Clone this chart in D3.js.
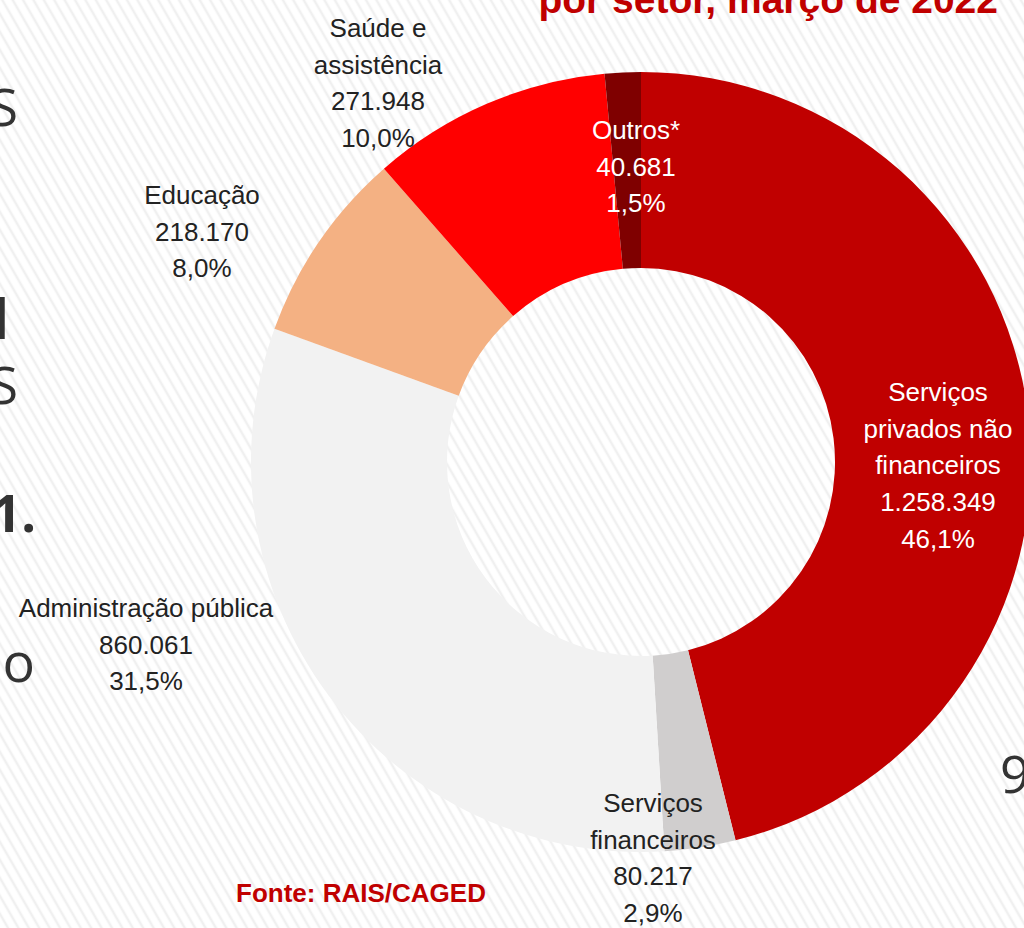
<!DOCTYPE html>
<html>
  <head>
    <meta charset="utf-8">
    <title>Empregos por setor, março de 2022</title>
    <script src="https://cdn.jsdelivr.net/npm/d3@7"></script>
    <style>
      body { margin: 0; background: #fff; }
      svg { display: block; }
      .lbl { font-family: "Liberation Sans", Arial, sans-serif; font-size: 26px; }
      .frag { font-family: "Open Sans", sans-serif; fill: #333; }
    </style>
  </head>
  <body>
    <svg id="chart" width="1024" height="928"></svg>
    <script>
      // data
      const sectors = ["Serviços privados não financeiros", "Serviços financeiros", "Administração pública", "Educação", "Saúde e assistência", "Outros*"];
      const jobs = [1258349, 80217, 860061, 218170, 271948, 40681];
      const colours = ["#c00000", "#d0cece", "#f2f2f2", "#f4b183", "#ff0000", "#7f0000"];
      // label lines as they break on the slide
      const nameLines = [["Serviços", "privados não", "financeiros"], ["Serviços", "financeiros"], ["Administração pública"], ["Educação"], ["Saúde e", "assistência"], ["Outros*"]];
      const labelColours = ["#fff", "#222", "#222", "#222", "#222", "#fff"];
      // label anchors (first line centre), placed by hand like the slide
      const labelAt = [[938, 401], [653, 812], [146, 617], [202, 204], [378, 37], [636, 139]];

      const svg = d3.select("#chart");
      const width = 1024, height = 928;
      const cx = 641, cy = 462, rOuter = 390, rInner = 194;

      // striped slide background
      const defs = svg.append("defs");
      const pat = defs.append("pattern")
        .attr("id", "stripes")
        .attr("patternUnits", "userSpaceOnUse")
        .attr("width", 9)
        .attr("height", 9)
        .attr("patternTransform", "rotate(-30)");
      pat.append("rect").attr("width", 9).attr("height", 9).attr("fill", "#fff");
      pat.append("line")
        .attr("x1", 2).attr("y1", 0).attr("x2", 2).attr("y2", 9)
        .attr("stroke", "#f0f0f0").attr("stroke-width", 2.5);
      svg.append("rect").attr("width", width).attr("height", height).attr("fill", "url(#stripes)");

      // fragments of the slide text behind the chart
      const frags = [
        { t: "S", x: 18, y: 126, size: 52, w: 400 },
        { t: "l", x: 9, y: 339, size: 56, w: 700 },
        { t: "S", x: 18, y: 404, size: 52, w: 400 },
        { t: "1.", x: 36, y: 532, size: 52, w: 700 },
        { t: "no", x: 35, y: 682, size: 54, w: 400 }
      ];
      svg.selectAll(".frag")
        .data(frags)
        .enter().append("text")
          .classed("frag", true)
          .attr("x", d => d.x)
          .attr("y", d => d.y)
          .attr("text-anchor", "end")
          .style("font-size", d => d.size + "px")
          .style("font-weight", d => d.w)
          .text(d => d.t);
      svg.append("text")
        .classed("frag", true)
        .attr("x", 1000)
        .attr("y", 793)
        .style("font-size", "52px")
        .text("9");

      // title, cut by the top edge
      svg.append("text")
        .attr("x", 998)
        .attr("y", 13)
        .attr("text-anchor", "end")
        .style("font-family", "'Liberation Sans', Arial, sans-serif")
        .style("font-size", "39px")
        .style("font-weight", "bold")
        .style("fill", "#c00000")
        .text("por setor, março de 2022");

      // donut
      const total = d3.sum(jobs);
      const loc = d3.formatLocale({ decimal: ",", thousands: ".", grouping: [3], currency: ["R$", ""] });
      const fmtNum = loc.format(",d");
      const fmtPct = loc.format(".1%");

      const rows = sectors.map((s, i) => ({ name: s, value: jobs[i], i: i }));
      const pie = d3.pie().sort(null).value(d => d.value);
      const arc = d3.arc().innerRadius(rInner).outerRadius(rOuter);

      const g = svg.append("g").attr("transform", "translate(" + cx + "," + cy + ")");
      g.selectAll(".slice")
        .data(pie(rows))
        .enter().append("path")
          .classed("slice", true)
          .attr("d", arc)
          .attr("fill", d => colours[d.data.i]);

      // labels
      const labels = svg.selectAll(".lbl")
        .data(rows)
        .enter().append("text")
          .classed("lbl", true)
          .attr("text-anchor", "middle")
          .attr("fill", d => labelColours[d.i]);
      labels.each(function(d) {
        const lines = nameLines[d.i].concat([fmtNum(d.value), fmtPct(d.value / total)]);
        d3.select(this).selectAll("tspan")
          .data(lines)
          .enter().append("tspan")
            .attr("x", labelAt[d.i][0])
            .attr("y", (l, k) => labelAt[d.i][1] + k * 36.7)
            .text(l => l);
      });

      // source
      svg.append("text")
        .attr("x", 361)
        .attr("y", 902)
        .attr("text-anchor", "middle")
        .style("font-family", "'Liberation Sans', Arial, sans-serif")
        .style("font-size", "26px")
        .style("font-weight", "bold")
        .style("fill", "#c00000")
        .text("Fonte: RAIS/CAGED");
    </script>
  </body>
</html>
